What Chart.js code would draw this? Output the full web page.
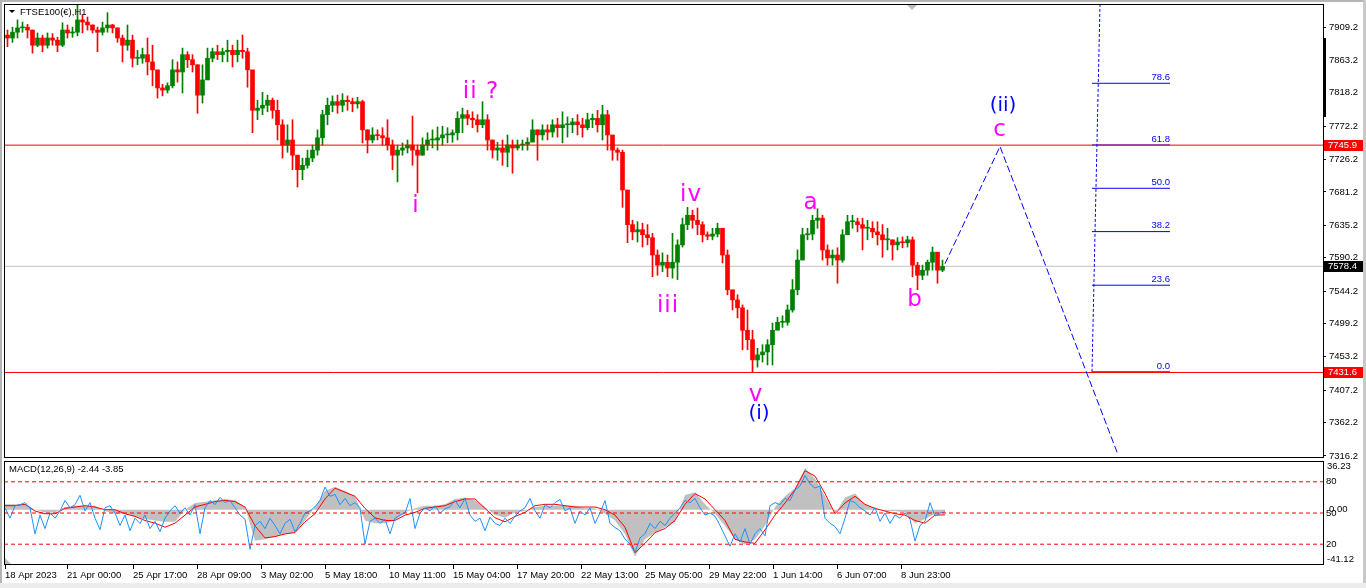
<!DOCTYPE html>
<html><head><meta charset="utf-8">
<script src="https://cdn.jsdelivr.net/npm/chart.js@4.4.1/dist/chart.umd.min.js"></script>
<style>
html,body{margin:0;padding:0;background:#fff;width:1366px;height:588px;overflow:hidden;position:relative}
canvas{position:absolute;left:0}
#c1{top:0}
#c2{top:460px}
.strip{position:absolute;z-index:5}
</style></head><body>
<canvas id="c1" width="1366" height="460" style="width:1366px;height:460px"></canvas>
<canvas id="c2" width="1366" height="128" style="width:1366px;height:128px"></canvas>
<div class="strip" style="left:0;top:0;width:1366px;height:2px;background:#b4b4b4"></div>
<div class="strip" style="left:0;top:0;width:2px;height:588px;background:#b4b4b4"></div>
<div class="strip" style="left:1363px;top:0;width:3px;height:588px;background:#c8c8c8"></div>
<div class="strip" style="left:0;top:583px;width:1366px;height:5px;background:#ececec"></div>
<script>
// ---------------- DATA ----------------
const symbolTitle = 'FTSE100(€),H1';
const macdTitle = 'MACD(12,26,9) -2.44 -3.85';

const timeLabels = ['18 Apr 2023','21 Apr 00:00','25 Apr 17:00','28 Apr 09:00','3 May 02:00','5 May 18:00','10 May 11:00','15 May 04:00','17 May 20:00','22 May 13:00','25 May 05:00','29 May 22:00','1 Jun 14:00','6 Jun 07:00','8 Jun 23:00'];
const timeTickPos = [0,62,128,192,256,320,384,448,512,576,640,704,768,832,896];

const priceTicks = [7909.2,7863.2,7818.2,7772.2,7726.2,7681.2,7635.2,7590.2,7544.2,7499.2,7453.2,7407.2,7362.2,7316.2];

const firstOpen = 7898;
const highs = [
7905,7909,7919,7916,7913,7905,7901,7898,7901,7900,
7895,7915,7912,7909,7940,7926,7923,7912,7909,7916,
7929,7913,7908,7898,7912,7898,7877,7880,7894,7884,
7833,7830,7832,7864,7861,7880,7875,7871,7857,7857,
7880,7880,7884,7880,7891,7884,7891,7898,7880,7829,
7808,7819,7815,7811,7808,7781,7774,7781,7732,7728,
7739,7746,7767,7794,7811,7814,7815,7817,7814,7811,
7812,7808,7767,7770,7767,7770,7781,7753,7746,7749,
7753,7786,7746,7756,7763,7767,7771,7772,7770,7767,
7792,7797,7794,7792,7788,7806,7788,7753,7750,7753,
7760,7753,7753,7753,7756,7781,7767,7774,7774,7781,
7783,7792,7785,7783,7788,7783,7790,7789,7794,7801,
7794,7753,7742,7739,7666,7642,7640,7638,7636,7624,
7601,7597,7594,7624,7615,7645,7660,7656,7659,7640,
7626,7631,7638,7629,7601,7541,7539,7525,7518,7490,
7465,7470,7477,7500,7508,7510,7525,7560,7601,7631,
7631,7649,7658,7649,7608,7601,7604,7629,7649,7649,
7645,7645,7642,7640,7640,7636,7631,7615,7618,7619,
7620,7619,7584,7580,7587,7605,7594,7587];
const lows = [
7882,7888,7894,7902,7894,7873,7882,7875,7880,7884,
7875,7882,7894,7895,7897,7901,7905,7901,7875,7898,
7902,7901,7888,7861,7877,7854,7857,7859,7843,7828,
7811,7814,7818,7825,7833,7818,7853,7847,7790,7804,
7843,7861,7864,7861,7861,7854,7861,7866,7826,7763,
7781,7788,7792,7783,7753,7728,7736,7712,7688,7698,
7714,7723,7732,7746,7774,7792,7790,7792,7794,7792,
7797,7749,7735,7749,7753,7746,7739,7712,7695,7732,
7735,7718,7680,7732,7739,7742,7739,7746,7749,7750,
7753,7763,7774,7770,7764,7770,7739,7728,7725,7718,
7716,7707,7739,7739,7739,7753,7725,7753,7753,7757,
7757,7749,7757,7763,7760,7757,7767,7770,7764,7753,
7739,7725,7725,7660,7611,7615,7612,7605,7608,7564,
7566,7571,7564,7562,7560,7605,7629,7631,7622,7612,
7615,7615,7619,7583,7539,7518,7507,7463,7463,7432,
7439,7446,7442,7442,7493,7494,7497,7515,7539,7594,
7615,7615,7631,7587,7580,7580,7555,7584,7622,7631,
7626,7601,7615,7618,7608,7591,7601,7587,7601,7604,
7605,7564,7546,7560,7566,7573,7555,7571];
const closes = [
7894,7902,7908,7909,7905,7884,7894,7884,7894,7891,
7884,7905,7901,7902,7919,7916,7912,7905,7902,7908,
7912,7908,7894,7884,7891,7866,7866,7871,7861,7850,
7825,7822,7828,7850,7847,7871,7864,7857,7815,7836,
7866,7875,7871,7875,7877,7871,7877,7875,7850,7794,
7797,7801,7808,7794,7774,7746,7753,7732,7712,7718,
7728,7739,7756,7788,7801,7806,7801,7808,7806,7803,
7806,7767,7753,7760,7759,7756,7746,7732,7739,7742,
7746,7739,7732,7746,7753,7753,7756,7760,7760,7763,
7783,7788,7783,7781,7774,7781,7753,7739,7742,7736,
7746,7742,7746,7747,7750,7767,7760,7767,7764,7774,
7770,7774,7774,7778,7774,7770,7781,7783,7774,7788,
7760,7739,7736,7684,7636,7626,7629,7622,7618,7594,
7580,7584,7576,7584,7608,7636,7649,7642,7636,7622,
7620,7623,7631,7594,7546,7532,7521,7490,7477,7449,
7456,7460,7470,7490,7501,7501,7518,7546,7587,7622,
7623,7642,7645,7601,7590,7594,7587,7622,7640,7640,
7636,7631,7631,7626,7622,7615,7615,7608,7612,7611,
7615,7580,7566,7573,7584,7598,7573,7578.4];

const levelLines = [7745.9, 7431.6];
const bidPrice = 7578.4;

const waveTexts  = ['i','ii ?','iii','iv','v','(i)','a','b','c','(ii)'];
const waveBarPos = [411, 476, 663, 686, 751, 754, 806, 910, 995, 998];
const wavePrices = [7661.7, 7819.3, 7523.5, 7677.0, 7400.5, 7374.2, 7665.9, 7531.8, 7766.8, 7800.0];
const waveDegree = ['minor','minor','minor','minor','minor','inter','minor','minor','minor','inter'];

const projBarPos = [940, 995, 1113];
const projPrices = [7582, 7744, 7318];

const fibRatios = [0, 23.6, 38.2, 50.0, 61.8, 78.6];
const fibLow = 7432.5, fibHigh = 7940;
const fibFromBar = 1087, fibToBar = 1165;
const fibTrendBars = [1087, 1095];
const fibTrendPrices = [7432.5, 7941];

// MACD panel (every 10 bars)
const macdMain = [4,4,4,0,-2,-2,2,3,3,3,
-1,-3,-3,-5,-7,-8,-9,-9,0,5,
6,7,8,7,2,-23,-22,-20,-18,-17,
-8,2,14,17,14,10,-8,-10,-10,-8,
-2,1,3,3,4,8,9,7,2,-4,
-6,-2,-1,2,3,3,3,3,1,1,
-3,-8,-18,-35,-22,-17,-13,-9,11,13,
4,-3,-12,-22,-26,-22,-12,2,10,16,
31,23,10,-3,9,12,4,1,-1,-1,
-2,-10,-7,-3,-2.44];
const macdSignal = [3,3,4,-1,-3,-3,1,2,3,2,
0,0,-3,-5,-8,-10,-13,-10,-4,2,
4,6,7,6,2,-12,-21,-20,-18,-17,
-9,-3,8,16,13,10,1,-6,-8,-8,
-4,-2,1,2,3,6,8,8,1,-6,
-9,-5,-2,3,4,4,3,2,2,2,
0,-4,-13,-32,-25,-17,-14,-8,4,12,
8,0,-8,-22,-24,-25,-15,-4,5,15,
29,25,12,-3,5,10,4,1,-1,-3,
-4,-8,-10,-4,-3.85];
// oscillator (every 5 bars)
const oscValues = [55,45,57,58,60,55,30,48,35,50,
45,52,62,55,58,67,52,60,45,34,
55,57,50,38,48,33,45,40,48,35,
42,32,45,52,57,50,55,48,58,30,
55,62,58,65,60,62,55,48,44,15,
38,42,35,45,38,30,40,44,32,40,
50,52,56,62,75,66,68,58,64,57,
60,55,20,42,45,40,44,30,45,48,
50,64,35,50,55,52,57,50,54,56,
62,55,64,48,42,45,33,46,40,38,
45,40,47,52,55,64,52,45,58,55,
60,63,52,55,40,52,48,55,40,50,
62,40,36,33,25,20,12,26,30,40,
35,42,38,45,50,55,62,60,64,55,
48,50,47,38,28,18,30,22,35,20,
30,35,28,57,60,58,64,62,72,76,
86,78,74,76,45,40,37,30,45,62,
60,55,52,48,55,42,50,40,48,45,
50,44,23,38,42,60,47,50,51];
const oscLevels = [80, 50, 20];
const macdRange = [-41.12, 36.23];

// ---------------- SETUP ----------------
Chart.defaults.font.family = '"Liberation Sans", Arial, sans-serif';
Chart.defaults.font.size = 9.5;
Chart.defaults.color = '#000';

const X_MIN = -1, X_MAX = 1318;
const BAR_STEP = 5;
const barX = i => i * BAR_STEP + 2.5;
const UP = '#008000', DOWN = '#ff0000';

const opens = closes.map((c, i) => i ? closes[i - 1] : firstOpen);
const barColors = closes.map((c, i) => c >= opens[i] ? UP : DOWN);

const wickData = highs.map((h, i) => ({x: barX(i), y: [lows[i], h]}));
const bodyData = closes.map((c, i) => ({x: barX(i), y: [Math.min(opens[i], c), Math.max(opens[i], c)]}));

const hline = v => [{x: X_MIN, y: v}, {x: X_MAX, y: v}];
const fibPrice = r => fibLow + (fibHigh - fibLow) * r / 100;
const fibData = [];
fibRatios.forEach(r => {
  fibData.push({x: fibFromBar, y: fibPrice(r)}, {x: fibToBar, y: fibPrice(r)}, {x: fibToBar + 1, y: null});
});

const lineBase = {type: 'line', pointRadius: 0, borderWidth: 1, tension: 0, fill: false};
const noPadV = s => { s.paddingTop = 0; s.paddingBottom = 0; };

const chrome1 = {
  id: 'chrome1',
  afterDraw(chart) {
    const {ctx, chartArea: a, scales: {x, y}} = chart;
    ctx.save();
    // wave labels
    ctx.textAlign = 'center'; ctx.textBaseline = 'middle';
    waveTexts.forEach((t, i) => {
      if (waveDegree[i] === 'minor') { ctx.font = '23px "DejaVu Sans"'; ctx.fillStyle = '#ff00ff'; ctx.letterSpacing = '1px'; }
      else { ctx.font = '20px "DejaVu Sans"'; ctx.fillStyle = '#0000ff'; ctx.letterSpacing = '0px'; }
      ctx.fillText(t, x.getPixelForValue(waveBarPos[i]), y.getPixelForValue(wavePrices[i]));
    });
    ctx.letterSpacing = '0px';
    // fib labels
    ctx.font = '9.5px "Liberation Sans"'; ctx.fillStyle = '#0000ff';
    ctx.textAlign = 'right'; ctx.textBaseline = 'bottom';
    fibRatios.forEach(r => {
      ctx.fillText(r.toFixed(1), x.getPixelForValue(fibToBar), y.getPixelForValue(fibPrice(r)) - 1);
    });
    // border
    ctx.strokeStyle = '#000'; ctx.lineWidth = 1;
    ctx.strokeRect(a.left + 0.5, a.top + 0.5, a.right - a.left, a.bottom - a.top - 1);
    // scale handle
    ctx.fillStyle = '#000';
    ctx.fillRect(a.right, 38, 3, 79);
    // shift marker
    ctx.fillStyle = '#bdbdbd';
    ctx.beginPath(); ctx.moveTo(907, a.top + 1); ctx.lineTo(917, a.top + 1); ctx.lineTo(912, a.top + 6); ctx.closePath(); ctx.fill();
    // price boxes
    ctx.font = '9.5px "Liberation Sans"'; ctx.textAlign = 'left'; ctx.textBaseline = 'middle';
    const box = (v, col) => {
      const py = Math.round(y.getPixelForValue(v));
      ctx.fillStyle = col; ctx.fillRect(a.right + 1, py - 5, 39, 11);
      ctx.fillStyle = '#fff'; ctx.fillText(v.toFixed(1), a.right + 5, py + 0.5);
    };
    levelLines.forEach(v => box(v, '#ff0000'));
    box(bidPrice, '#000');
    // title
    ctx.fillStyle = '#000';
    ctx.beginPath(); ctx.moveTo(9, 10); ctx.lineTo(15, 10); ctx.lineTo(12, 13); ctx.closePath(); ctx.fill();
    ctx.font = '9.5px "Liberation Sans"'; ctx.textAlign = 'left'; ctx.textBaseline = 'middle';
    ctx.fillText(symbolTitle, 20, 12);
    ctx.restore();
  }
};

new Chart(document.getElementById('c1'), {
  type: 'bar',
  data: {
    datasets: [
      {...lineBase, data: projBarPos.map((b, i) => ({x: b, y: projPrices[i]})), borderColor: '#0000ff', borderDash: [7, 3], order: 0},
      {...lineBase, data: fibTrendBars.map((b, i) => ({x: b, y: fibTrendPrices[i]})), borderColor: '#0000ff', borderDash: [3, 2], order: 0},
      {...lineBase, data: hline(levelLines[0]), borderColor: '#ff0000', order: 1},
      {...lineBase, data: hline(levelLines[1]), borderColor: '#ff0000', order: 1},
      {...lineBase, data: fibData, borderColor: '#0000ff', spanGaps: false, order: 2},
      {type: 'bar', data: bodyData, backgroundColor: barColors, barThickness: 4, grouped: false, minBarLength: 1, order: 5},
      {type: 'bar', data: wickData, backgroundColor: barColors, barThickness: 1, grouped: false, order: 6},
      {...lineBase, data: hline(bidPrice), borderColor: '#c0c0c0', order: 10}
    ]
  },
  options: {
    responsive: false, animation: false, devicePixelRatio: 1, events: [],
    layout: {padding: {left: 4, top: 4, right: 0, bottom: 2}},
    plugins: {legend: {display: false}, tooltip: {enabled: false}},
    scales: {
      x: {type: 'linear', min: X_MIN, max: X_MAX, display: false, offset: false},
      y: {
        position: 'right', min: 7313.4, max: 7941.0,
        afterFit: s => { s.width = 43; noPadV(s); },
        afterBuildTicks: s => { s.ticks = priceTicks.map(v => ({value: v})); },
        grid: {drawOnChartArea: false, drawTicks: true, tickLength: 3, color: '#000'},
        border: {display: false},
        ticks: {padding: 3, autoSkip: false, callback: v => Number(v).toFixed(1)}
      }
    }
  },
  plugins: [chrome1]
});

const chrome2 = {
  id: 'chrome2',
  afterDraw(chart) {
    const {ctx, chartArea: a, scales} = chart;
    const yM = scales.yM;
    ctx.save();
    ctx.strokeStyle = '#000'; ctx.lineWidth = 1;
    ctx.strokeRect(a.left + 0.5, a.top + 0.5, a.right - a.left, a.bottom - a.top - 1);
    ctx.fillStyle = '#bdbdbd';
    ctx.beginPath(); ctx.moveTo(a.left + 1, a.bottom - 7); ctx.lineTo(a.left + 1, a.bottom - 1); ctx.lineTo(a.left + 7, a.bottom - 1); ctx.closePath(); ctx.fill();
    ctx.fillStyle = '#000';
    ctx.font = '9.5px "Liberation Sans"'; ctx.textAlign = 'left'; ctx.textBaseline = 'middle';
    ctx.fillText(macdTitle, 9, a.top + 8);
    ctx.textBaseline = 'top';
    ctx.fillText(macdRange[1].toFixed(2), a.right + 4, yM.getPixelForValue(macdRange[1]) + 1);
    ctx.textBaseline = 'middle';
    ctx.fillText((0).toFixed(2), a.right + 6, yM.getPixelForValue(0));
    ctx.textBaseline = 'bottom';
    ctx.fillText(macdRange[0].toFixed(2), a.right + 4, yM.getPixelForValue(macdRange[0]) - 1);
    ctx.restore();
  }
};

new Chart(document.getElementById('c2'), {
  type: 'line',
  data: {
    datasets: [
      ...oscLevels.map(l => ({...lineBase, data: hline(l), yAxisID: 'yO', borderColor: '#ff0000', borderDash: [4, 3], order: 1})),
      {...lineBase, data: oscValues.map((v, i) => ({x: i * 5, y: v})), yAxisID: 'yO', borderColor: '#1e90ff', order: 2},
      {...lineBase, data: macdSignal.map((v, i) => ({x: i * 10, y: v})), yAxisID: 'yM', borderColor: '#ff0000', order: 3},
      {...lineBase, data: macdMain.map((v, i) => ({x: i * 10, y: v})), yAxisID: 'yM', borderColor: 'rgba(0,0,0,0)', borderWidth: 0, backgroundColor: '#c0c0c0', fill: 'origin', order: 4}
    ]
  },
  options: {
    responsive: false, animation: false, devicePixelRatio: 1, events: [],
    layout: {padding: {left: 4, top: 1, right: 0, bottom: 0}},
    plugins: {legend: {display: false}, tooltip: {enabled: false}},
    scales: {
      x: {
        type: 'linear', min: X_MIN, max: X_MAX, position: 'bottom', offset: false,
        afterFit: s => { s.height = 23; s.paddingLeft = 0; s.paddingRight = 0; },
        afterBuildTicks: s => { s.ticks = timeTickPos.map(v => ({value: v})); },
        grid: {drawOnChartArea: false, drawTicks: true, tickLength: 4, color: '#000'},
        border: {display: false},
        ticks: {align: 'start', padding: 1, autoSkip: false, maxRotation: 0, minRotation: 0, callback: (v, i) => timeLabels[i]}
      },
      yO: {
        position: 'right', min: 0, max: 100,
        afterFit: s => { s.width = 43; noPadV(s); },
        afterBuildTicks: s => { s.ticks = oscLevels.map(v => ({value: v})); },
        grid: {drawOnChartArea: false, drawTicks: false},
        border: {display: false},
        ticks: {padding: 3, autoSkip: false, callback: v => String(v)}
      },
      yM: {position: 'left', display: false, min: macdRange[0], max: macdRange[1]}
    }
  },
  plugins: [chrome2]
});
</script>
</body></html>
